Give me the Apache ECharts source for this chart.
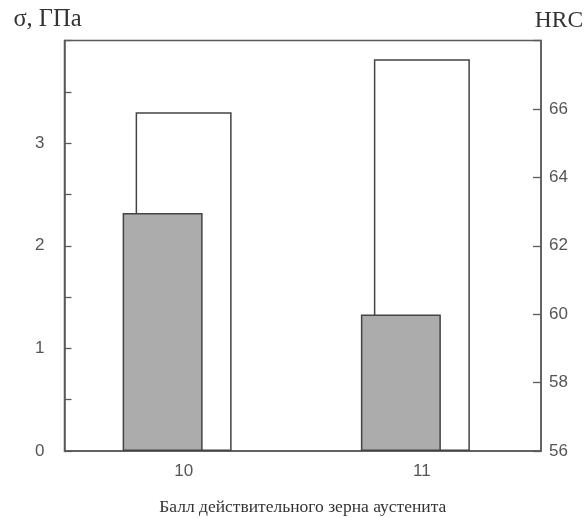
<!DOCTYPE html>
<html>
<head>
<meta charset="utf-8">
<script src="https://cdn.jsdelivr.net/npm/echarts@6/dist/echarts.min.js"></script>
<style>
  html, body { margin: 0; padding: 0; background: #fff; }
  #chart { width: 586px; height: 518px; }
</style>
</head>
<body>
<div id="chart"></div>
<script>
// балл зерна аустенита; σ (ГПа) - серые столбцы, HRC - белые
var grains = ['10', '11'];
var sigma = [2.32, 1.33];
var hrc = [65.9, 67.45];

var axisColor = '#5a5a5a';
var serif = '"Liberation Serif", "DejaVu Serif", serif';
var sans = '"Liberation Sans", Arial, sans-serif';

var myChart = echarts.init(document.getElementById('chart'));
var option = {
    animation: false,
    grid: [
        {left: 64.5, right: 45, top: 40.5, bottom: 67, show: true, outerBoundsMode: 'none',
         borderColor: axisColor, borderWidth: 1.5, backgroundColor: 'transparent'},
        // серые столбцы сдвинуты влево относительно категории
        {left: 43.5, right: 66, top: 40.5, bottom: 67, show: false, outerBoundsMode: 'none'}
    ],
    xAxis: [
        {
            type: 'category', gridIndex: 0, data: grains,
            name: 'Балл действительного зерна аустенита',
            nameLocation: 'middle', nameGap: 47,
            nameTextStyle: {fontFamily: serif, fontSize: 17.5, color: '#333'},
            axisLine: {lineStyle: {color: axisColor, width: 1.5}},
            axisTick: {show: false},
            axisLabel: {color: '#555', fontFamily: sans, fontSize: 17, margin: 12},
            splitLine: {show: false}
        },
        {type: 'category', gridIndex: 1, data: grains, show: false}
    ],
    yAxis: [
        {
            type: 'value', gridIndex: 0, position: 'left',
            min: 0, max: 4, interval: 0.5,
            name: 'σ, ГПа', nameLocation: 'end', nameGap: 8,
            nameTextStyle: {fontFamily: serif, fontSize: 24.5, color: '#333',
                            align: 'center', padding: [0, 34, 0, 0]},
            axisLine: {show: true, lineStyle: {color: axisColor, width: 1.5}},
            axisTick: {show: true, inside: true, length: 7, lineStyle: {color: axisColor, width: 1.3}},
            axisLabel: {color: '#555', fontFamily: sans, fontSize: 17, margin: 20,
                        formatter: function (v) { return (v % 1 === 0 && v < 4) ? v : ''; }},
            splitLine: {show: false}
        },
        {
            type: 'value', gridIndex: 0, position: 'right',
            min: 56, max: 68, interval: 2, startValue: 56,
            name: 'HRC', nameLocation: 'end', nameGap: 8,
            nameTextStyle: {fontFamily: serif, fontSize: 23.5, color: '#333',
                            align: 'center', padding: [0, 0, 0, 36]},
            axisLine: {show: true, lineStyle: {color: axisColor, width: 1.5}},
            axisTick: {show: true, inside: true, length: 8, lineStyle: {color: axisColor, width: 1.3}},
            axisLabel: {color: '#555', fontFamily: sans, fontSize: 17, margin: 8,
                        formatter: function (v) { return v < 68 ? v : ''; }},
            splitLine: {show: false}
        },
        {type: 'value', gridIndex: 1, min: 0, max: 4, show: false}
    ],
    series: [
        {
            name: 'HRC', type: 'bar', xAxisIndex: 0, yAxisIndex: 1,
            barWidth: 96, data: hrc,
            itemStyle: {color: '#fff', borderColor: '#444', borderWidth: 1.5}
        },
        {
            name: 'σ', type: 'bar', xAxisIndex: 1, yAxisIndex: 2,
            barWidth: 80, data: sigma,
            itemStyle: {color: '#acacac', borderColor: '#444', borderWidth: 1.5}
        }
    ]
};
myChart.setOption(option);
</script>
</body>
</html>
